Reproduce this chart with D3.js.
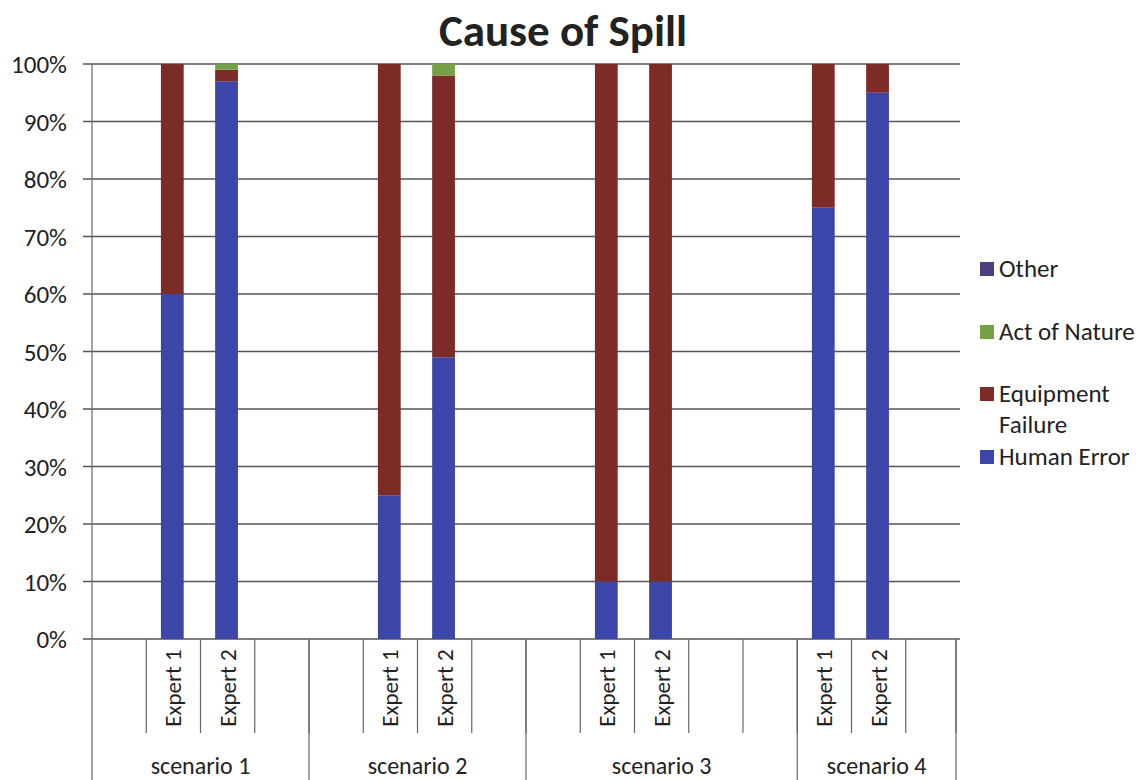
<!DOCTYPE html>
<html>
<head>
<meta charset="utf-8">
<script src="https://cdn.jsdelivr.net/npm/d3@7"></script>
<style>
  body { margin: 0; background: #fff; }
  svg { font-family: Carlito, Lato, "Open Sans", sans-serif; }
  .grid line { stroke: #555; stroke-width: 1.3; }
  .sep { stroke: #666; stroke-width: 1.2; }
  .tick-label { font-size: 25px; fill: #222; }
  .cat { font-size: 23px; fill: #222; }
  .scn { font-size: 24px; }
  .legend { font-size: 25px; fill: #222; }
</style>
</head>
<body>
<svg id="chart" width="1145" height="780"></svg>
<script>
// category slots along the x axis, blanks included
const slots = ["", "Expert 1", "Expert 2", "",
               "", "Expert 1", "Expert 2", "",
               "", "Expert 1", "Expert 2", "", "",
               "Expert 1", "Expert 2", ""];
const scenarios = ["scenario 1", "scenario 2", "scenario 3", "scenario 4"];
const scenarioSlots = [4, 4, 5, 3];

const humanError = [0, 60, 97, 0, 0, 25, 49, 0, 0, 10, 10, 0, 0, 75, 95, 0];
const equipmentFailure = [0, 40, 2, 0, 0, 75, 49, 0, 0, 90, 90, 0, 0, 25, 5, 0];
const actOfNature = [0, 0, 1, 0, 0, 0, 2, 0, 0, 0, 0, 0, 0, 0, 0, 0];
const other = [0, 0, 0, 0, 0, 0, 0, 0, 0, 0, 0, 0, 0, 0, 0, 0];

const seriesKeys = ["Human Error", "Equipment Failure", "Act of Nature", "Other"];
const colors = ["#3c45a8", "#7d2b27", "#76a048", "#4d3e80"];
const yTicks = [0, 10, 20, 30, 40, 50, 60, 70, 80, 90, 100];

let rows = slots.map((s, i) => ({
    idx: i,
    "Human Error": humanError[i],
    "Equipment Failure": equipmentFailure[i],
    "Act of Nature": actOfNature[i],
    "Other": other[i]
}));

let svg = d3.select("#chart");
let plotLeft = 92, plotRight = 960, plotTop = 64, plotBottom = 639;

let x = d3.scaleBand().domain(d3.range(slots.length)).range([plotLeft, plotRight]).padding(0);
let y = d3.scaleLinear().domain([0, 100]).range([plotBottom, plotTop]);
let bw = x.bandwidth();
let edge = i => i === slots.length ? plotRight - 4 : x(i);

// title
svg.append("text").attr("x", 563).attr("y", 46).attr("text-anchor", "middle")
    .attr("font-size", "45px").attr("font-weight", "bold").attr("fill", "#222")
    .text("Cause of Spill");

// gridlines + y ticks
let grid = svg.append("g").attr("class", "grid");
grid.selectAll("line").data(yTicks).join("line")
    .attr("x1", plotLeft - 9).attr("x2", plotRight)
    .attr("y1", d => y(d)).attr("y2", d => y(d));
svg.selectAll(".tick-label").data(yTicks).join("text")
    .attr("class", "tick-label")
    .attr("x", 67).attr("y", d => y(d) + 9)
    .attr("text-anchor", "end")
    .text(d => d + "%");

// stacked bars
let stack = d3.stack().keys(seriesKeys);
let layers = stack(rows);
svg.selectAll("g.layer").data(layers).join("g")
    .attr("class", "layer")
    .attr("fill", (d, i) => colors[i])
    .selectAll("rect").data(d => d.filter(p => p[1] > p[0])).join("rect")
    .attr("x", d => x(d.data.idx) + bw * 0.27)
    .attr("width", bw * 0.42)
    .attr("y", d => y(d[1]))
    .attr("height", d => y(d[0]) - y(d[1]));

// y axis line (continues as outer category separator)
svg.append("line").attr("class", "sep")
    .attr("x1", plotLeft).attr("x2", plotLeft).attr("y1", plotTop).attr("y2", 780);

// category slot separators
svg.selectAll(".slotsep").data(d3.range(1, slots.length + 1)).join("line")
    .attr("class", "sep slotsep")
    .attr("x1", d => edge(d)).attr("x2", d => edge(d))
    .attr("y1", plotBottom).attr("y2", 733);

// scenario separators
let bounds = [];
let acc = 0;
scenarioSlots.forEach(n => { bounds.push([acc, acc + n]); acc += n; });
svg.selectAll(".scsep").data(bounds).join("line")
    .attr("class", "sep scsep")
    .attr("x1", d => edge(d[1])).attr("x2", d => edge(d[1]))
    .attr("y1", plotBottom).attr("y2", 780);

// slot labels, rotated
svg.selectAll(".cat").data(slots.map((s, i) => ({s, i})).filter(d => d.s)).join("text")
    .attr("class", "cat")
    .attr("text-anchor", "middle")
    .attr("transform", d => `translate(${x(d.i) + bw / 2 + 8},688) rotate(-90)`)
    .text(d => d.s);

// scenario labels
svg.selectAll(".scn").data(bounds).join("text")
    .attr("class", "cat scn")
    .attr("text-anchor", "middle")
    .attr("x", d => (x(d[0]) + edge(d[1])) / 2)
    .attr("y", 774)
    .text((d, i) => scenarios[i]);

// legend, drawn top to bottom in reverse stack order
let legendItems = [
    {label: ["Other"], c: colors[3], y: 269},
    {label: ["Act of Nature"], c: colors[2], y: 332},
    {label: ["Equipment", "Failure"], c: colors[1], y: 394},
    {label: ["Human Error"], c: colors[0], y: 457}
];
let lg = svg.append("g");
legendItems.forEach(d => {
    lg.append("rect").attr("x", 980).attr("y", d.y - 7).attr("width", 14).attr("height", 14)
        .attr("fill", d.c);
    d.label.forEach((t, k) => {
        lg.append("text").attr("class", "legend").attr("x", 999).attr("y", d.y + 8 + k * 31).text(t);
    });
});
</script>
</body>
</html>
